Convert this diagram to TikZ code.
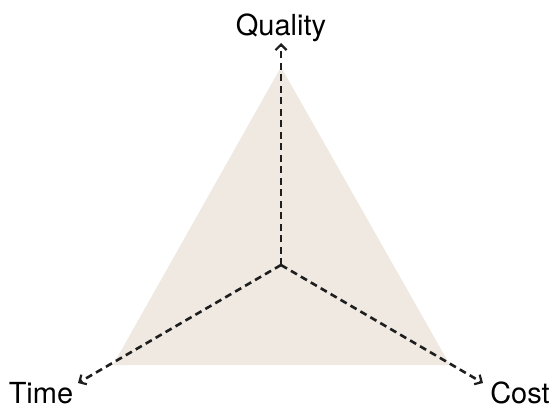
\documentclass[tikz,border=0pt]{standalone}
\usepackage{fontspec}
\setmainfont{TeX Gyre Heros}
\usetikzlibrary{arrows.meta}
\definecolor{areafill}{HTML}{EFE9E2}
\definecolor{axiscol}{HTML}{1E1E1E}
\tikzset{
  axisline/.style={draw=axiscol, line width=2.6pt, dash pattern=on 7pt off 4.5pt, -{Straight Barb[length=5.5pt,width=11pt,line width=2.2pt]}},
  axislabel/.style={font=\fontsize{29}{33}\selectfont, text=black, anchor=base, inner sep=0pt}
}
\begin{document}
\begin{tikzpicture}[x=1pt,y=-1pt]
\useasboundingbox (0,0) rectangle (554,410);
\fill[areafill] (281,67) -- (113,365) -- (450,365) -- cycle;
\coordinate (c) at (281,265);
\coordinate (q) at (281,43);
\coordinate (t) at (78,383);
\coordinate (k) at (483,383);
\draw[axisline] (c) -- (q);
\draw[axisline] (c) -- (t);
\draw[axisline] (c) -- (k);
\node[axislabel] (ql) at (281,35) {Quality};
\node[axislabel] (tl) at (41,403) {Time};
\node[axislabel] (kl) at (520,403) {Cost};
\end{tikzpicture}
\end{document}
